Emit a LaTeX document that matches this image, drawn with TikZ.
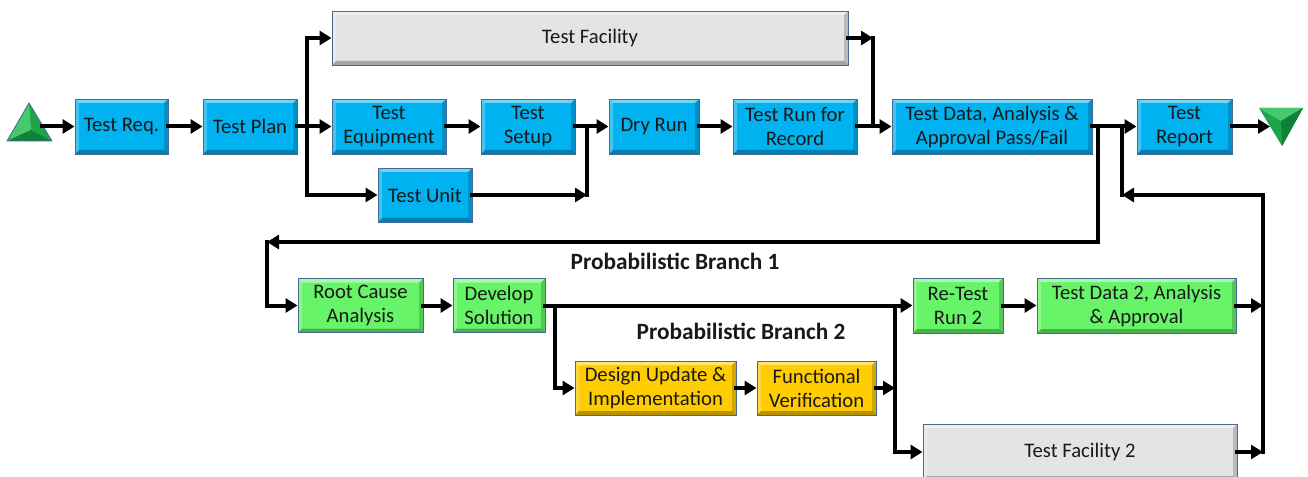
\documentclass[tikz,border=0pt]{standalone}
\usepackage{fontspec}
\setmainfont{Carlito}
\usetikzlibrary{arrows.meta,calc}
\definecolor{bluefill}{RGB}{0,178,240}
\definecolor{greenfill}{RGB}{104,244,104}
\definecolor{yellowfill}{RGB}{255,204,0}
\definecolor{grayfill}{RGB}{228,228,228}
\definecolor{boxline}{RGB}{70,105,150}
\definecolor{txt}{RGB}{25,25,25}
\definecolor{trimid}{RGB}{30,165,75}
\definecolor{trilight}{RGB}{70,200,110}
\definecolor{tridark}{RGB}{15,130,55}
\def\ppNW{path picture bounding box.north west}
\def\ppNE{path picture bounding box.north east}
\def\ppSW{path picture bounding box.south west}
\def\ppSE{path picture bounding box.south east}
\begin{document}
\begin{tikzpicture}[x=0.75pt,y=-0.75pt,
  wh/.style 2 args={minimum width=#1*0.75pt, minimum height=#2*0.75pt},
  bevel/.style={path picture={
    \fill[white,opacity=.45] (\ppNW)--(\ppNE)--([shift={(-3pt,-3pt)}]\ppNE)--([shift={(3pt,-3pt)}]\ppNW)--cycle;
    \fill[white,opacity=.25] (\ppNW)--([shift={(3pt,-3pt)}]\ppNW)--([shift={(3pt,3pt)}]\ppSW)--(\ppSW)--cycle;
    \fill[black,opacity=.28] (\ppSW)--([shift={(3pt,3pt)}]\ppSW)--([shift={(-3pt,3pt)}]\ppSE)--(\ppSE)--cycle;
    \fill[black,opacity=.18] (\ppSE)--([shift={(-3pt,3pt)}]\ppSE)--([shift={(-3pt,-3pt)}]\ppNE)--(\ppNE)--cycle;
  }},
  box/.style={draw=boxline, line width=0.7pt, bevel, align=center, inner sep=1pt,
    text=txt, font=\fontsize{15.5}{18}\selectfont},
  bluebox/.style={box, fill=bluefill},
  greenbox/.style={box, fill=greenfill},
  yellowbox/.style={box, fill=yellowfill},
  graybox/.style={box, fill=grayfill},
  lbl/.style={font=\bfseries\fontsize{17.5}{20}\selectfont, text=txt},
  ln/.style={line width=3pt, line cap=rect},
  arr/.style={line width=3pt, line cap=rect, -{Triangle[length=9pt,width=10.5pt]}},
]
\useasboundingbox (0,0) rectangle (1308,477);

% top row
\node[bluebox, wh={93}{55}] (treq)   at (121.5,126.5) {Test Req.};
\node[bluebox, wh={94}{55}] (tplan)  at (250,126.5) {Test Plan};
\node[graybox, wh={516}{54}] (tfac)  at (590,38) {Test Facility};
\node[bluebox, wh={114}{55}] (tequip) at (389,126.5) {Test\\Equipment};
\node[bluebox, wh={94}{55}] (tsetup) at (528,126.5) {Test\\Setup};
\node[bluebox, wh={94}{54}] (tunit)  at (425,195) {Test Unit};
\node[bluebox, wh={90}{55}] (dry)    at (654,126.5) {Dry Run};
\node[bluebox, wh={124}{55}] (trun)  at (795,126.5) {Test Run for\\Record};
\node[bluebox, wh={200}{55}] (tdata) at (992,126.5) {Test Data, Analysis \&\\Approval Pass/Fail};
\node[bluebox, wh={95}{55}] (trep)   at (1184.5,126.5) {Test\\Report};

% bottom rows
\node[greenbox, wh={125}{54}] (rca)    at (360.5,305.5) {Root Cause\\Analysis};
\node[greenbox, wh={92}{54}]  (dev)    at (499,305.5) {Develop\\Solution};
\node[greenbox, wh={90}{55}]  (retest) at (958,305.5) {Re-Test\\Run 2};
\node[greenbox, wh={199}{55}] (tdata2) at (1136.5,305.5) {Test Data 2, Analysis\\\& Approval};
\node[yellowbox, wh={161}{54}] (design) at (655.5,388) {Design Update \&\\Implementation};
\node[yellowbox, wh={119}{54}] (func)   at (816.5,388) {Functional\\Verification};
\node[graybox, wh={314}{56}]  (tfac2)  at (1080,452) {Test Facility 2};

\node[lbl] (pb1) at (675,261) {Probabilistic Branch 1};
\node[lbl] (pb2) at (741,331) {Probabilistic Branch 2};

% start / end triangles
\fill[trimid] (29,103) -- (7,141) -- (52,141) -- cycle;
\fill[trilight] (29,103) -- (7,141) -- (31,130) -- cycle;
\fill[tridark] (7,141) -- (52,141) -- (31,130) -- cycle;
\draw[boxline, line width=0.6pt, line join=round] (29,103) -- (7,141) -- (52,141) -- cycle;
\coordinate (startpt) at (42,126.5);

\fill[trimid] (1259,108) -- (1303,108) -- (1282,146) -- cycle;
\fill[trilight] (1259,108) -- (1303,108) -- (1281,121) -- cycle;
\fill[tridark] (1303,108) -- (1282,146) -- (1281,121) -- cycle;
\coordinate (endpt) at (1270,126.5);

% junction coordinates
\coordinate (j1) at (307,126.5);
\coordinate (j2) at (587,126.5);
\coordinate (j2b) at (587,195);
\coordinate (j3t) at (873,38);
\coordinate (j3) at (873,126.5);
\coordinate (j4) at (1098,126.5);
\coordinate (j4b) at (1098,242);
\coordinate (j4c) at (267,242);
\coordinate (j5) at (1122,126.5);
\coordinate (j5b) at (1122,195);
\coordinate (j6) at (1263,195);
\coordinate (j6b) at (1263,452);
\coordinate (j7) at (1263,305.5);
\coordinate (j8) at (555,305.5);
\coordinate (j9) at (895,305.5);
\coordinate (j10) at (895,388);
\coordinate (j11) at (895,452);

% connectors
\draw[arr] (startpt) -- (treq);
\draw[arr] (treq) -- (tplan);
\draw[arr] (tplan) -- (tequip);
\draw[arr] (j1) |- (tfac);
\draw[arr] (j1) |- (tunit);
\draw[arr] (tequip) -- (tsetup);
\draw[arr] (tsetup) -- (dry);
\draw[arr] (tunit) -- (j2b);
\draw[ln] (j2b) -- (j2);
\draw[arr] (dry) -- (trun);
\draw[arr] (tfac) -- (j3t);
\draw[ln] (j3t) -- (j3);
\draw[arr] (trun) -- (tdata);
\draw[arr] (tdata) -- (trep);
\draw[arr] (trep) -- (endpt);
\draw[arr] (j4) -- (j4b) -- (j4c);
\draw[arr] (j4c) |- (rca);
\draw[arr] (j6) -- (j5b);
\draw[ln] (j5b) -- (j5);
\draw[ln] (j6) -- (j6b);
\draw[arr] (tdata2) -- (j7);
\draw[arr] (tfac2) -- (j6b);
\draw[arr] (rca) -- (dev);
\draw[arr] (dev) -- (retest);
\draw[arr] (retest) -- (tdata2);
\draw[arr] (j8) |- (design);
\draw[arr] (design) -- (func);
\draw[arr] (func) -- (j10);
\draw[arr] (j9) |- (tfac2);
\end{tikzpicture}
\end{document}
